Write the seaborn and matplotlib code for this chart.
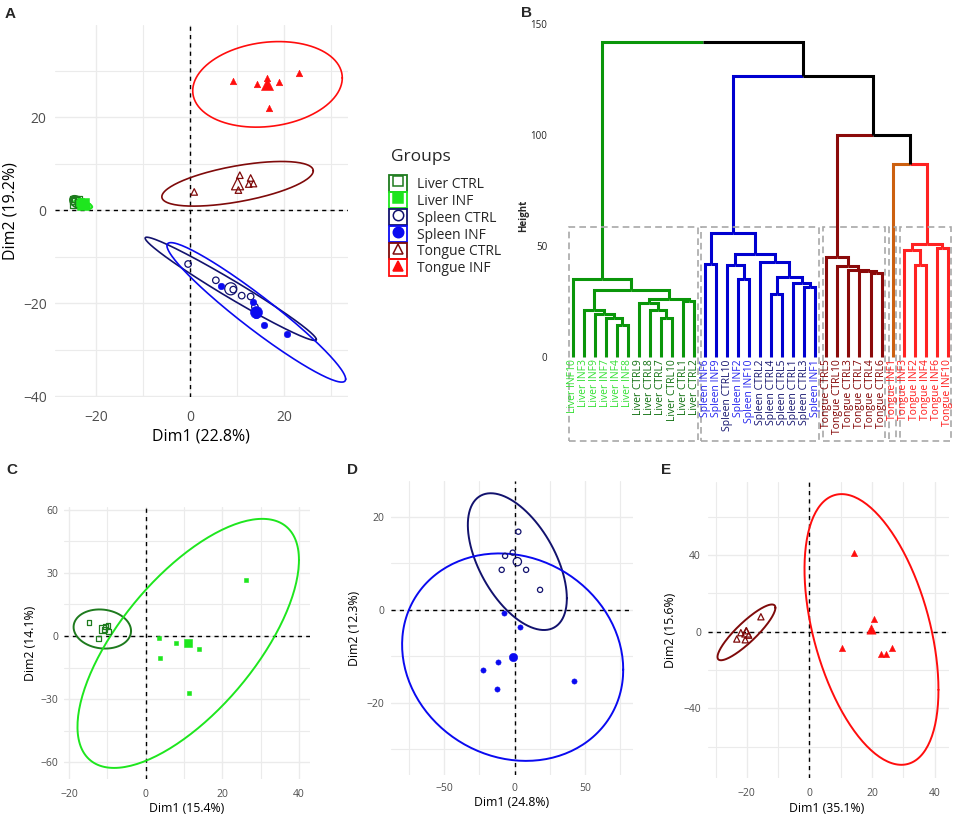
import numpy as np
import pandas as pd
import matplotlib.pyplot as plt
from matplotlib.patches import Rectangle
from matplotlib.lines import Line2D
import seaborn as sns

sns.set_theme(style="white")
plt.rcParams['font.family'] = ['Open Sans', 'DejaVu Sans']

# groups
group_codes = ["LC", "LI", "SC", "SI", "TC", "TI"]
group_names = ["Liver CTRL", "Liver INF", "Spleen CTRL", "Spleen INF", "Tongue CTRL", "Tongue INF"]
group_colors = ["#1E7B1E", "#1EE61E", "#12126E", "#0A0AF0", "#7F0A0A", "#FF0D0D"]
group_markers = ["s", "s", "o", "o", "^", "^"]
group_open = [True, False, True, False, True, False]

# panel A: PCA of all tissues
a_group = ["LC", "LC", "LC", "LC", "LC", "LC",
           "LI", "LI", "LI", "LI", "LI", "LI",
           "SC", "SC", "SC", "SC", "SC", "SC",
           "SI", "SI", "SI", "SI", "SI",
           "TC", "TC", "TC", "TC", "TC", "TC",
           "TI", "TI", "TI", "TI", "TI", "TI"]
a_x = [-24.6, -23.8, -24.3, -23.5, -24.9, -23.7,
       -23.6, -22.5, -21.8, -23.2, -22.9, -22.3,
       -0.4, 5.5, 9.2, 11.0, 12.9, 13.8,
       6.6, 13.3, 15.8, 20.7, 14.1,
       0.9, 10.6, 10.3, 12.9, 12.5, 13.5,
       9.2, 14.3, 16.3, 19.0, 23.2, 16.9]
a_y = [2.1, 1.6, 2.4, 1.2, 1.9, 1.5,
       1.5, 1.1, 0.8, 1.9, 1.2, 1.0,
       -11.6, -15.1, -17.1, -18.4, -18.6, -20.8,
       -16.3, -19.7, -24.7, -26.7, -22.6,
       3.9, 7.5, 4.3, 6.9, 5.6, 5.7,
       27.7, 27.2, 28.3, 27.6, 29.5, 21.9]
a_ell_group = ["LC", "LI", "SC", "SI", "TC", "TI"]
a_ell_sdx = [1.4, 1.95, 18.2, 19.0, 16.1, 15.9]
a_ell_sdy = [1.3, 0.95, 11.1, 15.0, 4.8, 9.2]
a_ell_r = [-0.3, -0.6, -0.981, -0.956, 0.58, 0.15]

# panel C: liver
c_group = ["LC", "LC", "LC", "LC", "LC", "LC", "LI", "LI", "LI", "LI", "LI", "LI"]
c_x = [-14.8, -12.4, -10.8, -9.8, -9.6, -10.4, 26.2, 3.6, 7.8, 14.0, 3.8, 11.3]
c_y = [6.5, -1.1, 2.9, 4.9, 2.0, 4.6, 26.6, -1.1, -3.2, -6.3, -10.3, -26.9]
c_ell_group = ["LC", "LI"]
c_ell_sdx = [7.5, 28.9]
c_ell_sdy = [9.3, 59.2]
c_ell_r = [-0.1, 0.669]

# panel D: spleen
d_group = ["SC", "SC", "SC", "SC", "SC", "SC", "SI", "SI", "SI", "SI", "SI", "SI"]
d_x = [2.7, -1.3, -6.7, -9.1, 8.2, 18.1, -7.4, 3.9, -11.5, -22.6, -12.6, 42.2]
d_y = [16.8, 12.3, 11.6, 8.6, 8.6, 4.3, -0.7, -3.7, -11.2, -12.9, -17.1, -15.4]
d_ell_group = ["SC", "SI"]
d_ell_sdx = [35.1, 78.4]
d_ell_sdy = [14.7, 22.3]
d_ell_r = [-0.537, -0.12]

# panel E: tongue
e_group = ["TC", "TC", "TC", "TC", "TC", "TC", "TI", "TI", "TI", "TI", "TI", "TI"]
e_x = [-15.5, -21.9, -20.2, -19.4, -23.2, -20.5, 14.1, 20.7, 10.4, 22.9, 24.5, 26.4]
e_y = [7.8, -0.5, 0.5, -1.8, -3.8, -4.2, 41.2, 6.5, -8.7, -11.6, -11.6, -8.7]
e_ell_group = ["TC", "TI"]
e_ell_sdx = [9.25, 21.4]
e_ell_sdy = [14.55, 70.6]
e_ell_r = [0.88, -0.446]

# panel B: hierarchical clustering
leaf_labels = ["Liver INF10", "Liver INF3", "Liver INF9", "Liver INF7", "Liver INF4", "Liver INF8",
               "Liver CTRL9", "Liver CTRL8", "Liver CTRL7", "Liver CTRL10", "Liver CTRL1", "Liver CTRL2",
               "Spleen INF6", "Spleen INF9", "Spleen CTRL10", "Spleen INF2", "Spleen INF10",
               "Spleen CTRL2", "Spleen CTRL4", "Spleen CTRL5", "Spleen CTRL1", "Spleen CTRL3", "Spleen INF1",
               "Tongue CTRL5", "Tongue CTRL10", "Tongue CTRL3", "Tongue CTRL7", "Tongue CTRL4", "Tongue CTRL6",
               "Tongue INF1", "Tongue INF3", "Tongue INF2", "Tongue INF4", "Tongue INF6", "Tongue INF10"]
# merge k creates node len(leaf_labels) + k
merge_left = [4, 3, 2, 1, 8, 7, 6, 10, 41, 38, 0,
              12, 15, 14, 18, 21, 20, 49, 17, 48, 46,
              27, 26, 25, 24, 23,
              31, 30, 33, 62, 29, 60, 55, 45]
merge_right = [5, 35, 36, 37, 9, 39, 40, 11, 42, 43, 44,
               13, 16, 47, 19, 22, 50, 51, 52, 53, 54,
               28, 56, 57, 58, 59,
               32, 61, 34, 63, 64, 65, 66, 67]
merge_height = [14.7, 17.9, 19.7, 21.2, 17.9, 21.2, 24.5, 25.4, 26.1, 30.2, 35.4,
                42.2, 35.4, 41.4, 28.7, 31.7, 33.5, 36.2, 42.9, 46.3, 56.0,
                38.1, 38.9, 39.2, 41.1, 45.2,
                41.7, 48.5, 49.0, 50.8, 87.0, 100.0, 126.5, 142.0]
cluster_roots = [45, 55, 60, 29, 64]
cluster_colors = ["#0A960A", "#0000D0", "#8B0A0A", "#CC6010", "#FF2222"]
rect_top = 58.7
label_colors = {"Liver INF": "#33E033", "Liver CTRL": "#0E6E0E", "Spleen INF": "#2222EE",
                "Spleen CTRL": "#14146E", "Tongue INF": "#FF1A1A", "Tongue CTRL": "#800000"}

FW, FH = 957, 817
fig = plt.figure(figsize=(FW / 100, FH / 100), dpi=100)


def add_ax(l, t, r, b):
    return fig.add_axes([l / FW, 1 - b / FH, (r - l) / FW, (b - t) / FH])


def px_to_ax(rect, px, py):
    l, t, r, b = rect
    return (px - l) / (r - l), (b - py) / (b - t)


def ellipse_xy(cx, cy, sdx, sdy, r):
    t = np.linspace(0, 2 * np.pi, 200)
    u, v = np.cos(t), np.sin(t)
    x = cx + sdx * u
    y = cy + sdy * (r * u + np.sqrt(1 - r ** 2) * v)
    return x, y


def pca_panel(rect, group, xs, ys, eg, esdx, esdy, er, lims, ticks, minor, xlab, ylab,
              xlab_px, ylab_px, s_pt, s_mean, fs_tick, fs_lab, lw_ell, pads):
    ax = add_ax(*rect)
    df = pd.DataFrame({"group": group, "x": xs, "y": ys})
    means = df.groupby("group")[["x", "y"]].mean()
    ax.axhline(0, color="black", ls=(0, (3, 3)), lw=1.0, zorder=1)
    ax.axvline(0, color="black", ls=(0, (3, 3)), lw=1.0, zorder=1)
    for code, sub in df.groupby("group", sort=False):
        i = group_codes.index(code)
        col, mk = group_colors[i], group_markers[i]
        if group_open[i]:
            kw = dict(facecolor="none", edgecolor=col, linewidth=0.9)
        else:
            kw = dict(color=col, edgecolor=col, linewidth=0.4)
        sns.scatterplot(data=sub, x="x", y="y", marker=mk, s=s_pt, ax=ax, legend=False, zorder=3, **kw)
        m = means.loc[[code]]
        sns.scatterplot(data=m, x="x", y="y", marker=mk, s=s_mean, ax=ax, legend=False, zorder=3, **kw)
    for code, sx, sy, rr in zip(eg, esdx, esdy, er):
        i = group_codes.index(code)
        ex, ey = ellipse_xy(means.loc[code, "x"], means.loc[code, "y"], sx, sy, rr)
        ax.plot(ex, ey, color=group_colors[i], lw=lw_ell, zorder=2)
    ax.set_xlim(lims[0])
    ax.set_ylim(lims[1])
    ax.set_xticks(ticks[0])
    ax.set_yticks(ticks[1])
    ax.set_xticks(minor[0], minor=True)
    ax.set_yticks(minor[1], minor=True)
    ax.grid(which="major", color="#EBEBEB", lw=1.0)
    ax.grid(which="minor", color="#EBEBEB", lw=0.8)
    ax.set_axisbelow(True)
    ax.tick_params(which="both", length=0, labelsize=fs_tick, labelcolor="#4D4D4D")
    ax.tick_params(axis="x", pad=pads[0])
    ax.tick_params(axis="y", pad=pads[1])
    sns.despine(ax=ax, left=True, bottom=True)
    ax.set_xlabel(xlab, fontsize=fs_lab, color="black", va="center")
    ax.set_ylabel(ylab, fontsize=fs_lab, color="black", va="center")
    ax.xaxis.set_label_coords(*px_to_ax(rect, *xlab_px))
    ax.yaxis.set_label_coords(*px_to_ax(rect, *ylab_px))
    return ax


# A
pca_panel((55, 25, 348, 397), a_group, a_x, a_y, a_ell_group, a_ell_sdx, a_ell_sdy, a_ell_r,
          [(-28.7, 33.6), (-40.2, 39.8)], [[-20, 0, 20], [-40, -20, 0, 20]],
          [[-10, 10, 30], [-30, -10, 10, 30]], "Dim1 (22.8%)", "Dim2 (19.2%)",
          (201, 436), (11, 211), 22, 75, 10, 11.5, 1.2, (9, 6))
# C
pca_panel((64, 507, 310, 779), c_group, c_x, c_y, c_ell_group, c_ell_sdx, c_ell_sdy, c_ell_r,
          [(-21.3, 42.9), (-68.0, 61.3)], [[-20, 0, 20, 40], [-60, -30, 0, 30, 60]],
          [[-10, 10, 30], [-45, -15, 15, 45]], "Dim1 (15.4%)", "Dim2 (14.1%)",
          (187, 808), (31, 643), 12, 30, 7.5, 8.8, 1.4, (7, 4))
# D
pca_panel((391, 481, 633, 775), d_group, d_x, d_y, d_ell_group, d_ell_sdx, d_ell_sdy, d_ell_r,
          [(-87.6, 84.0), (-35.5, 27.7)], [[-50, 0, 50], [-20, 0, 20]],
          [[-75, -25, 25, 75], [-30, -10, 10]], "Dim1 (24.8%)", "Dim2 (12.3%)",
          (512, 803), (355, 628), 14, 36, 7.5, 8.8, 1.4, (6, 5))
# E
pca_panel((708, 482, 949, 778), e_group, e_x, e_y, e_ell_group, e_ell_sdx, e_ell_sdy, e_ell_r,
          [(-32.4, 44.6), (-76.3, 78.1)], [[-20, 0, 20, 40], [-40, 0, 40]],
          [[-30, -10, 10, 30], [-60, -20, 20, 60]], "Dim1 (35.1%)", "Dim2 (15.6%)",
          (827, 808), (670, 630), 20, 45, 7.5, 8.8, 1.4, (7, 5))

# legend for A
handles = []
for i in range(len(group_codes)):
    col = group_colors[i]
    box = Rectangle((0, 0), 1, 1, fill=False, edgecolor=col, lw=1.3)
    mk = Line2D([], [], ls="", marker=group_markers[i], markersize=7.5,
                mfc="none" if group_open[i] else col, mec=col, mew=1.1)
    handles.append((box, mk))
fig.text(390.5 / FW, 1 - 157 / FH, "Groups", fontsize=12.5, ha="left", va="center")
fig.legend(handles, group_names, loc="upper left", bbox_to_anchor=(389 / FW, 1 - 175 / FH),
           frameon=False, fontsize=10, handlelength=1.3, handleheight=1.46,
           labelspacing=0.0, handletextpad=0.75, borderpad=0, borderaxespad=0)

# B: dendrogram
brect = (553, 13.2, 955, 440.5)
axb = add_ax(*brect)
n = len(leaf_labels)
pos = {i: float(i) for i in range(n)}
hgt = {i: 0.0 for i in range(n)}
children = {}
for k, (a, b, h) in enumerate(zip(merge_left, merge_right, merge_height)):
    node = n + k
    children[node] = (a, b)
    pos[node] = (pos[a] + pos[b]) / 2
    hgt[node] = h

edge_color = {}


def paint(node, col):
    edge_color[node] = col
    for c in children.get(node, ()):
        paint(c, col)


def leaves_of(node):
    if node < n:
        return [node]
    return leaves_of(children[node][0]) + leaves_of(children[node][1])


for root, col in zip(cluster_roots, cluster_colors):
    paint(root, col)

for p, (a, b) in children.items():
    for c in (a, b):
        axb.plot([pos[p], pos[c], pos[c]], [hgt[p], hgt[p], hgt[c]],
                 color=edge_color.get(c, "black"), lw=2.2, solid_joinstyle="miter",
                 solid_capstyle="butt", zorder=2)

ylo = -37.5
for root in cluster_roots:
    lv = leaves_of(root)
    x0, x1 = min(lv) - 0.33, max(lv) + 0.33
    axb.add_patch(Rectangle((x0, ylo), x1 - x0, rect_top - ylo, fill=False, edgecolor="#A8A8A8",
                            lw=1.2, ls=(0, (4, 2.5)), zorder=3, clip_on=False))

for i, lab in enumerate(leaf_labels):
    key = lab.split(" ")[0] + (" INF" if "INF" in lab else " CTRL")
    axb.text(i, -0.9, lab, rotation=90, ha="center", va="top", fontsize=7.5,
             color=label_colors[key], zorder=4)

axb.set_xlim(-1.79, 34.66)
axb.set_ylim(ylo, 155)
axb.set_xticks([])
axb.set_yticks([0, 50, 100, 150])
axb.tick_params(axis="y", length=2, width=1.3, pad=2, labelsize=7, color="black", labelcolor="#222222")
sns.despine(ax=axb, left=True, bottom=True)
axb.set_ylabel("Height", fontsize=7, fontweight="bold", va="center")
axb.yaxis.set_label_coords(*px_to_ax(brect, 524, 216))

# panel letters
for letter, (px, py) in zip("ABCDE", [(5, 13.8), (521, 13), (6, 469.5), (346.5, 469.5), (661, 469.5)]):
    fig.text(px / FW, 1 - py / FH, letter, fontsize=11, fontweight="bold",
             family=["Liberation Sans", "DejaVu Sans"], ha="left", va="center")

fig.savefig("out.png", dpi=100)
